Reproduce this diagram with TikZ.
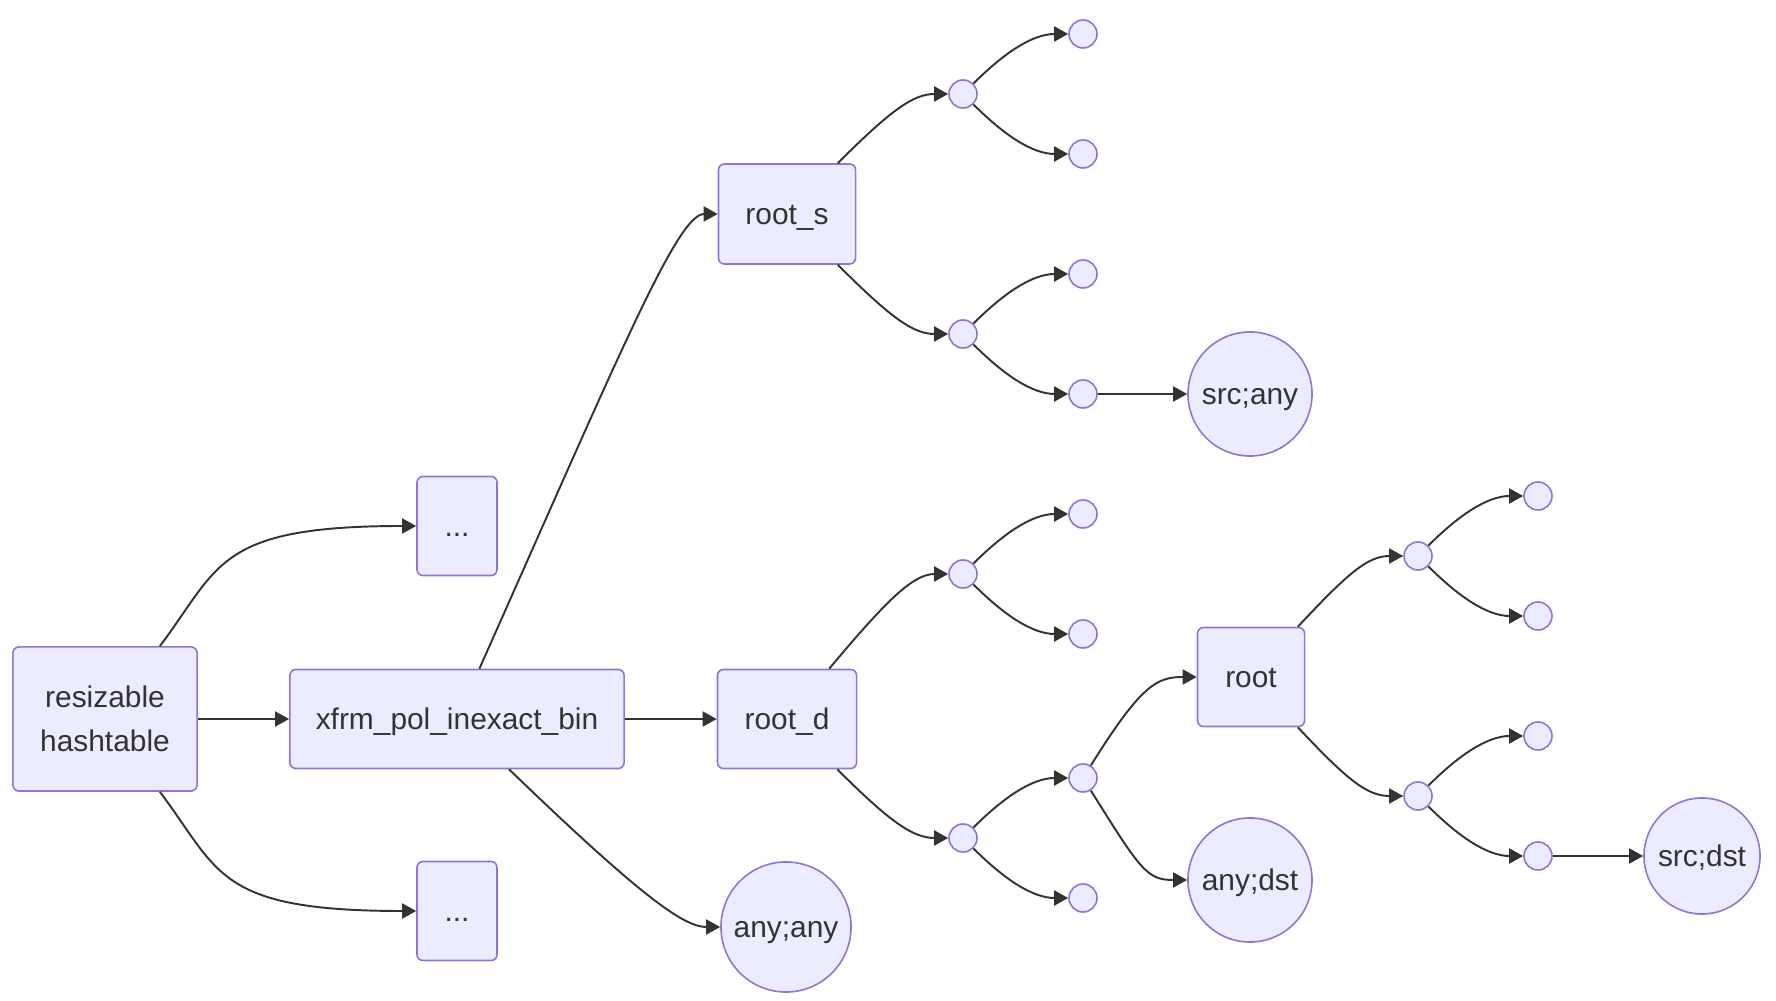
\documentclass[tikz,border=0pt]{standalone}
\usepackage{fontspec}
\setmainfont{Liberation Sans}
\usetikzlibrary{arrows.meta}

\definecolor{nodefill}{HTML}{ECECFF}
\definecolor{nodeline}{HTML}{9370DB}
\definecolor{ink}{HTML}{333333}

\tikzset{
  label font/.style={font=\fontsize{8.5}{12.5}\selectfont},
  oneline/.style={text height=0.6em, text depth=0pt},
  box/.style={draw=nodeline, fill=nodefill, line width=0.45pt, rounded corners=1.7pt,
    inner sep=0pt, text=ink, align=center, label font},
  bubble/.style={circle, draw=nodeline, fill=nodefill, line width=0.45pt,
    inner sep=0pt, text=ink, label font, oneline},
  joint/.style={circle, draw=nodeline, fill=nodefill, line width=0.45pt,
    minimum size=0.28cm, inner sep=0pt},
  link/.style={draw=ink, line width=0.55pt, -{Triangle[length=0.14cm,width=0.15cm]}},
}

\begin{document}
\begin{tikzpicture}[x=0.01cm, y=0.01cm]
\useasboundingbox (0,0) rectangle (1776,1000);

% table and bins
\node[box, minimum width=1.84cm, minimum height=1.44cm] (rh) at (105,281) {resizable\\hashtable};
\node[box, oneline, minimum width=3.34cm, minimum height=0.99cm] (xfrm) at (457,281) {xfrm\_pol\_inexact\_bin};
\node[box, oneline, minimum width=0.80cm, minimum height=0.99cm] (dotsA) at (457,474) {...};
\node[box, oneline, minimum width=0.80cm, minimum height=0.99cm] (dotsB) at (457,89) {...};

% roots
\node[box, oneline, minimum width=1.37cm, minimum height=1.00cm] (rootS) at (787,786) {root\_s};
\node[box, oneline, minimum width=1.39cm, minimum height=0.99cm] (rootD) at (787,281) {root\_d};
\node[box, oneline, minimum width=1.07cm, minimum height=0.99cm] (root) at (1251,323) {root};

% lists
\node[bubble, minimum size=1.30cm] (anyany) at (786,73) {any;any};
\node[bubble, minimum size=1.24cm] (srcany) at (1250,606) {src;any};
\node[bubble, minimum size=1.24cm] (anydst) at (1250,120) {any;dst};
\node[bubble, minimum size=1.16cm] (srcdst) at (1702,144) {src;dst};

% tree nodes
\node[joint] (s1) at (963,906) {};
\node[joint] (s2) at (963,666) {};
\node[joint] (d1) at (963,426) {};
\node[joint] (d2) at (963,162) {};
\node[joint] (d3) at (1083,222) {};
\node[joint] (r1) at (1418,444) {};
\node[joint] (r2) at (1418,204) {};

% leaves
\foreach \n/\x/\y in {l1/1083/966, l2/1083/846, l3/1083/726, l4/1083/606,
                      l5/1083/486, l6/1083/366, l7/1083/102,
                      l8/1538/504, l9/1538/384, l10/1538/264, l11/1538/144}
  \node[joint] (\n) at (\x,\y) {};

% edges
\draw[link] (rh) to[out=53,in=180,out distance=1cm,in distance=2cm] (dotsA);
\draw[link] (rh) to[out=-53,in=180,out distance=1cm,in distance=2cm] (dotsB);
\draw[link] (rh) -- (xfrm);
\draw[link] (xfrm) to[out=66,in=180,out distance=3.5cm,in distance=0.4cm] (rootS);
\draw[link] (xfrm) -- (rootD);
\draw[link] (xfrm) to[out=-44,in=180,out distance=1.9cm,in distance=0.35cm] (anyany);

\draw[link] (rootS) to[out=45,in=180,out distance=0.75cm,in distance=0.35cm] (s1);
\draw[link] (rootS) to[out=-45,in=180,out distance=0.75cm,in distance=0.35cm] (s2);
\draw[link] (s1) to[out=45,in=180,out distance=0.45cm,in distance=0.35cm] (l1);
\draw[link] (s1) to[out=-45,in=180,out distance=0.45cm,in distance=0.35cm] (l2);
\draw[link] (s2) to[out=45,in=180,out distance=0.45cm,in distance=0.35cm] (l3);
\draw[link] (s2) to[out=-45,in=180,out distance=0.45cm,in distance=0.35cm] (l4);
\draw[link] (l4) -- (srcany);

\draw[link] (rootD) to[out=50,in=180,out distance=0.9cm,in distance=0.35cm] (d1);
\draw[link] (rootD) to[out=-45,in=180,out distance=0.75cm,in distance=0.35cm] (d2);
\draw[link] (d1) to[out=45,in=180,out distance=0.45cm,in distance=0.35cm] (l5);
\draw[link] (d1) to[out=-45,in=180,out distance=0.45cm,in distance=0.35cm] (l6);
\draw[link] (d2) to[out=45,in=180,out distance=0.45cm,in distance=0.35cm] (d3);
\draw[link] (d2) to[out=-45,in=180,out distance=0.45cm,in distance=0.35cm] (l7);
\draw[link] (d3) to[out=58,in=180,out distance=0.95cm,in distance=0.4cm] (root);
\draw[link] (d3) to[out=-58,in=180,out distance=0.95cm,in distance=0.4cm] (anydst);

\draw[link] (root) to[out=47,in=180,out distance=0.75cm,in distance=0.35cm] (r1);
\draw[link] (root) to[out=-47,in=180,out distance=0.75cm,in distance=0.35cm] (r2);
\draw[link] (r1) to[out=45,in=180,out distance=0.45cm,in distance=0.35cm] (l8);
\draw[link] (r1) to[out=-45,in=180,out distance=0.45cm,in distance=0.35cm] (l9);
\draw[link] (r2) to[out=45,in=180,out distance=0.45cm,in distance=0.35cm] (l10);
\draw[link] (r2) to[out=-45,in=180,out distance=0.45cm,in distance=0.35cm] (l11);
\draw[link] (l11) -- (srcdst);
\end{tikzpicture}
\end{document}
